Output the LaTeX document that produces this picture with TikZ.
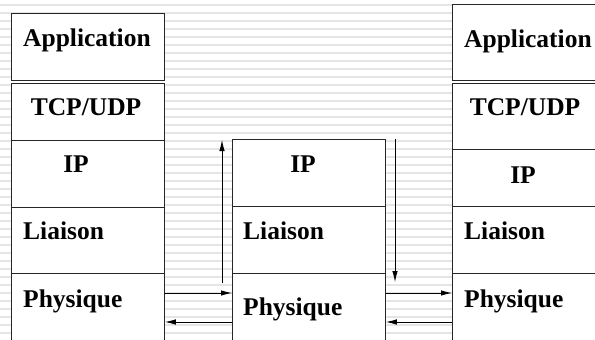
\documentclass[tikz,border=0pt]{standalone}
\usepackage{fontspec}
\setmainfont{Liberation Serif}
\usetikzlibrary{arrows.meta}
\tikzset{
  layer/.style={draw=black!85, fill=white, line width=0.9pt, minimum width=153pt, inner sep=0pt, anchor=north west},
  lbl/.style={inner sep=0pt, font=\fontsize{25.5}{30}\selectfont\bfseries},
  arr/.style={line width=0.8pt, -{Latex[length=11pt,width=5.5pt]}},
  stripe/.style={line width=1.4pt, draw=black!10}
}
\begin{document}
\begin{tikzpicture}[x=1pt,y=-1pt]
\useasboundingbox (0,0) rectangle (595,340);
\clip (0,0) rectangle (595,340);
\fill[white] (0,0) rectangle (595,340);
\foreach \k in {0,...,42} {
  \draw[stripe] (0,5+8*\k) -- (595,5+8*\k);
}
% left stack
\node[layer, minimum height=67pt] (lapp) at (11,13) {};
\node[layer, minimum height=57pt] (ltcp) at (11,83) {};
\node[layer, minimum height=67pt] (lip) at (11,140) {};
\node[layer, minimum height=66pt] (llia) at (11,207) {};
\node[layer, minimum height=80pt] (lphy) at (11,273) {};
% middle stack
\node[layer, minimum height=67pt] (mip) at (232,139) {};
\node[layer, minimum height=67pt] (mlia) at (232,206) {};
\node[layer, minimum height=80pt] (mphy) at (232,273) {};
% right stack
\node[layer, minimum height=76pt] (rapp) at (452,4) {};
\node[layer, minimum height=66pt] (rtcp) at (452,83) {};
\node[layer, minimum height=57pt] (rip) at (452,149) {};
\node[layer, minimum height=67pt] (rlia) at (452,206) {};
\node[layer, minimum height=80pt] (rphy) at (452,273) {};
% labels
\node[lbl, anchor=base west] (tlapp) at (23,46) {Application};
\node[lbl, anchor=base] (tltcp) at (86,115) {TCP/UDP};
\node[lbl, anchor=base] (tlip) at (76,172) {IP};
\node[lbl, anchor=base west] (tllia) at (23,239) {Liaison};
\node[lbl, anchor=base west] (tlphy) at (23,307) {Physique};
\node[lbl, anchor=base] (tmip) at (303,172) {IP};
\node[lbl, anchor=base west] (tmlia) at (243,239) {Liaison};
\node[lbl, anchor=base west] (tmphy) at (243,315) {Physique};
\node[lbl, anchor=base west] (trapp) at (464,47) {Application};
\node[lbl, anchor=base] (trtcp) at (525,115) {TCP/UDP};
\node[lbl, anchor=base] (trip) at (523,183) {IP};
\node[lbl, anchor=base west] (trlia) at (464,239) {Liaison};
\node[lbl, anchor=base west] (trphy) at (464,307) {Physique};
% connectors
\coordinate (upbot) at (222,283);
\coordinate (uptop) at (222,140);
\coordinate (dntop) at (395,139);
\coordinate (dnbot) at (395,282);
\draw[arr] (lphy.east |- 0,293) -- (mphy.west |- 0,293);
\draw[arr] (mphy.west |- 0,322) -- (lphy.east |- 0,322);
\draw[arr] (upbot) -- (uptop);
\draw[arr] (dntop) -- (dnbot);
\draw[arr] (mphy.east |- 0,293) -- (rphy.west |- 0,293);
\draw[arr] (rphy.west |- 0,322) -- (mphy.east |- 0,322);
\end{tikzpicture}
\end{document}
